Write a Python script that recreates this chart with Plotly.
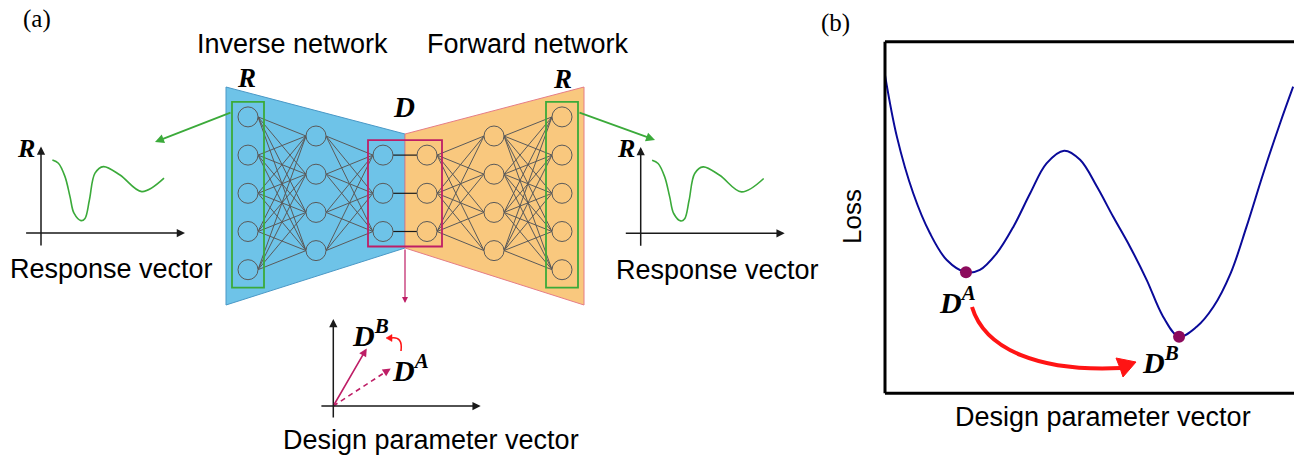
import plotly.graph_objects as go

W, H = 1294, 456
SANS = "Liberation Sans, Arial, sans-serif"
SERIF = "Liberation Serif, Times New Roman, serif"

BLUE_FILL = "#6EC3E8"
BLUE_EDGE = "#4A98C6"
ORANGE_FILL = "#F9C87E"
ORANGE_EDGE = "#E57D86"
GREEN = "#3BAA3A"
MAGENTA = "#BE1E66"
DOT = "#8C0A5C"
NAVY = "#0A0A99"
RED = "#FF1414"
NODE_EDGE = "#5A5A5A"
INK = "#1A1A1A"

# ---------------- panel (a): network ----------------
layer_x = [248, 316, 383, 427, 494, 562]
layer_n = [5, 4, 3, 3, 4, 5]
layer_fill = [BLUE_FILL, BLUE_FILL, BLUE_FILL, ORANGE_FILL, ORANGE_FILL, ORANGE_FILL]
node_gap = 38.2
net_mid_y = 193.3
node_r = 10
inverse_trap = [(226, 87), (405, 134), (405, 248), (226, 305)]
forward_trap = [(405, 134), (584, 87), (584, 305), (405, 248)]

# response spectrum sketched in both small plots (local units)
resp_t = [0.57, 0.87, 1.2, 1.45, 1.65, 2.0, 2.2, 2.42, 2.7, 3.12, 3.95, 5.04, 6.15]
resp_r = [3.65, 3.49, 2.82, 1.82, 0.99, 0.62, 0.73, 1.65, 2.99, 3.32, 2.9, 2.07, 2.74]

# design vectors in the small parameter-space sketch
vec_A = (2.87, 1.87)
vec_B = (1.67, 2.88)

# ---------------- panel (b): loss landscape ----------------
loss_x = [0.000, 0.029, 0.069, 0.110, 0.151, 0.198, 0.232, 0.273, 0.314, 0.355,
          0.395, 0.438, 0.477, 0.518, 0.558, 0.599, 0.640, 0.680, 0.719, 0.762,
          0.803, 0.845, 0.884, 0.925, 0.966, 0.998]
loss_y = [0.905, 0.730, 0.569, 0.455, 0.379, 0.344, 0.351, 0.398, 0.474, 0.569,
          0.654, 0.690, 0.664, 0.588, 0.502, 0.417, 0.322, 0.218, 0.161, 0.189,
          0.246, 0.341, 0.474, 0.626, 0.768, 0.872]


def node_ys(n):
    return [net_mid_y + (i - (n - 1) / 2) * node_gap for i in range(n)]


def dom_x(origin, lo, hi, unit):
    return [(origin + lo * unit) / W, (origin + hi * unit) / W]


def dom_y(origin, lo, hi, unit):
    return [(H - (origin - lo * unit)) / H, (H - (origin - hi * unit)) / H]


fig = go.Figure()
shapes = []
ann = []

# trapezoid bodies
for pts, fill, edge in [(inverse_trap, BLUE_FILL, BLUE_EDGE), (forward_trap, ORANGE_FILL, ORANGE_EDGE)]:
    path = "M " + " L ".join(f"{x},{y}" for x, y in pts) + " Z"
    shapes.append(dict(type="path", path=path, xref="x", yref="y", fillcolor=fill,
                       line=dict(color=edge, width=1), layer="below"))

# connections between layers
cx, cy = [], []
dx, dy = [], []
for k in range(len(layer_x) - 1):
    ya, yb = node_ys(layer_n[k]), node_ys(layer_n[k + 1])
    xa, xb = layer_x[k] + node_r, layer_x[k + 1] - node_r
    if k == 2:
        for y in ya:
            dx += [xa, xb, None]
            dy += [y, y, None]
        continue
    for y0 in ya:
        for y1 in yb:
            cx += [xa, xb, None]
            cy += [y0, y1, None]
fig.add_trace(go.Scatter(x=cx, y=cy, mode="lines", line=dict(color=NODE_EDGE, width=1),
                         xaxis="x", yaxis="y", hoverinfo="skip"))
fig.add_trace(go.Scatter(x=dx, y=dy, mode="lines", line=dict(color=INK, width=1.2),
                         xaxis="x", yaxis="y", hoverinfo="skip"))

# neurons
for k, x in enumerate(layer_x):
    ys = node_ys(layer_n[k])
    fig.add_trace(go.Scatter(x=[x] * len(ys), y=ys, mode="markers",
                             marker=dict(size=2 * node_r, color=layer_fill[k],
                                         line=dict(color=NODE_EDGE, width=1)),
                             xaxis="x", yaxis="y", hoverinfo="skip"))

# highlight boxes around R and D layers
for x in (layer_x[0], layer_x[5]):
    ys = node_ys(5)
    shapes.append(dict(type="rect", xref="x", yref="y", x0=x - 16, x1=x + 16,
                       y0=ys[0] - 15, y1=ys[-1] + 18, line=dict(color=GREEN, width=1.8)))
ysd = node_ys(3)
shapes.append(dict(type="rect", xref="x", yref="y", x0=layer_x[2] - 15, x1=layer_x[3] + 15,
                   y0=ysd[0] - 15, y1=ysd[-1] + 15, line=dict(color=MAGENTA, width=1.8)))


def arrow(xr, yr, x0, y0, x1, y1, color, width=1.5, size=1.0, head=2):
    ann.append(dict(x=x1, y=y1, ax=x0, ay=y0, xref=xr, yref=yr, axref=xr, ayref=yr,
                    showarrow=True, arrowhead=head, arrowsize=size, arrowwidth=width,
                    arrowcolor=color, text="", standoff=0))


def label(x, y, text, size, family=SANS, xr="x", yr="y", color="black", angle=0):
    ann.append(dict(x=x, y=y, xref=xr, yref=yr, text=text, showarrow=False,
                    font=dict(family=family, size=size, color=color),
                    xanchor="center", yanchor="middle", textangle=angle))


# green arrows out of the R boxes
arrow("x", "y", 232, 112, 155, 142, GREEN, width=1.8, size=1.0)
arrow("x", "y", 578, 112, 655, 140, GREEN, width=1.8, size=1.0)
# magenta arrow down from the D layer
arrow("x", "y", 405, 248, 405, 303, MAGENTA, width=1.2, size=1.0)

# small response plots
for xa, ya, ox, oy in [("x3", "y3", 41, 233), ("x4", "y4", 640.7, 233.3)]:
    fig.add_trace(go.Scatter(x=resp_t, y=resp_r, mode="lines", line=dict(color=GREEN, width=1.6, shape="spline"),
                             xaxis=xa, yaxis=ya, hoverinfo="skip"))
    arrow(xa, ya, -0.82, 0, 7.2, 0, INK, width=1.5, size=1.1)
    arrow(xa, ya, 0, -0.7, 0, 4.32, INK, width=1.5, size=1.1)
    label(-0.75, 4.22, "<b><i>R</i></b>", 26, SERIF, xa, ya)

# small parameter-space plot
arrow("x5", "y5", -0.67, 0, 7.37, 0, INK, width=1.5, size=1.1)
arrow("x5", "y5", 0, -0.65, 0, 4.35, INK, width=1.5, size=1.1)
arrow("x5", "y5", 0, 0, vec_B[0], vec_B[1], MAGENTA, width=1.6, size=1.0)
fig.add_trace(go.Scatter(x=[0, vec_A[0] * 0.93], y=[0, vec_A[1] * 0.93], mode="lines",
                         line=dict(color=MAGENTA, width=1.6, dash="5px,4px"),
                         xaxis="x5", yaxis="y5", hoverinfo="skip"))
arrow("x5", "y5", vec_A[0] * 0.9, vec_A[1] * 0.9, vec_A[0], vec_A[1], MAGENTA, width=1.6, size=1.0)
label(vec_B[0] + 0.2, vec_B[1] + 0.75, "<b><i>D<sup>B</sup></i></b>", 30, SERIF, "x5", "y5")
label(vec_A[0] + 1.0, vec_A[1] + 0.05, "<b><i>D<sup>A</sup></i></b>", 30, SERIF, "x5", "y5")

# loss curve and its two minima
fig.add_trace(go.Scatter(x=loss_x, y=loss_y, mode="lines", line=dict(color=NAVY, width=2, shape="spline"),
                         xaxis="x2", yaxis="y2", hoverinfo="skip"))
iA = min(range(0, 11), key=lambda i: loss_y[i])
iB = min(range(11, len(loss_y)), key=lambda i: loss_y[i])
fig.add_trace(go.Scatter(x=[loss_x[iA], loss_x[iB]], y=[loss_y[iA], loss_y[iB]], mode="markers",
                         marker=dict(size=12, color=DOT), xaxis="x2", yaxis="y2", hoverinfo="skip"))
label(loss_x[iA] - 0.02, loss_y[iA] - 0.08, "<b><i>D<sup>A</sup></i></b>", 30, SERIF, "x2", "y2")
label(loss_x[iB] - 0.045, loss_y[iB] - 0.065, "<b><i>D<sup>B</sup></i></b>", 30, SERIF, "x2", "y2")

# box around the loss landscape (right side runs off the page)
for x0, y0, x1, y1 in [(0, 0, 0, 1), (0, 1, 1.05, 1), (0, 0, 1.05, 0)]:
    shapes.append(dict(type="line", xref="x2 domain", yref="y2 domain", x0=x0, y0=y0, x1=x1, y1=y1,
                       line=dict(color="black", width=3)))

# red curved arrows
shapes.append(dict(type="path", xref="x", yref="y", path="M 972,307 C 985,350 1040,372 1121,368",
                   line=dict(color=RED, width=4)))
shapes.append(dict(type="path", xref="x", yref="y", path="M 1136,362 L 1116,358 L 1120,368 L 1123,377 Z",
                   fillcolor=RED, line=dict(color=RED, width=1)))
shapes.append(dict(type="path", xref="x", yref="y", path="M 401,351 Q 403,336 391,338",
                   line=dict(color=RED, width=1.6)))
shapes.append(dict(type="path", xref="x", yref="y", path="M 386,338 L 392,334.5 L 392,341.5 Z",
                   fillcolor=RED, line=dict(color=RED, width=0.5)))

# text
label(37, 19, "(a)", 25, SERIF)
label(835, 23, "(b)", 25, SERIF)
label(292, 44, "Inverse network", 27)
label(528, 44, "Forward network", 27)
label(246, 78, "<b><i>R</i></b>", 27, SERIF)
label(562, 79, "<b><i>R</i></b>", 27, SERIF)
label(404, 107, "<b><i>D</i></b>", 29, SERIF)
label(111.5, 269, "Response vector", 27)
label(717, 270, "Response vector", 27)
label(431, 440, "Design parameter vector", 27)
label(1103, 417, "Design parameter vector", 27)
label(852, 217, "Loss", 26, angle=-90)

hidden = dict(visible=False, fixedrange=True)
fig.update_layout(
    width=W, height=H, margin=dict(l=0, r=0, t=0, b=0),
    paper_bgcolor="white", plot_bgcolor="rgba(0,0,0,0)", showlegend=False,
    xaxis=dict(domain=[0, 1], range=[0, W], **hidden),
    yaxis=dict(domain=[0, 1], range=[H, 0], **hidden),
    xaxis2=dict(domain=[885 / W, 1], range=[0, 1], anchor="y2", **hidden),
    yaxis2=dict(domain=[(H - 393.3) / H, (H - 41.7) / H], range=[0, 1], anchor="x2", **hidden),
    xaxis3=dict(domain=dom_x(41, -1.5, 7.5, 20), range=[-1.5, 7.5], anchor="y3", **hidden),
    yaxis3=dict(domain=dom_y(233, -1.5, 4.5, 20), range=[-1.5, 4.5], anchor="x3", **hidden),
    xaxis4=dict(domain=dom_x(640.7, -1.5, 7.5, 20), range=[-1.5, 7.5], anchor="y4", **hidden),
    yaxis4=dict(domain=dom_y(233.3, -1.5, 4.5, 20), range=[-1.5, 4.5], anchor="x4", **hidden),
    xaxis5=dict(domain=dom_x(333.3, -1.5, 8, 20), range=[-1.5, 8], anchor="y5", **hidden),
    yaxis5=dict(domain=dom_y(406, -1.5, 5, 20), range=[-1.5, 5], anchor="x5", **hidden),
    shapes=shapes, annotations=ann,
)

fig.write_html("out.html")
